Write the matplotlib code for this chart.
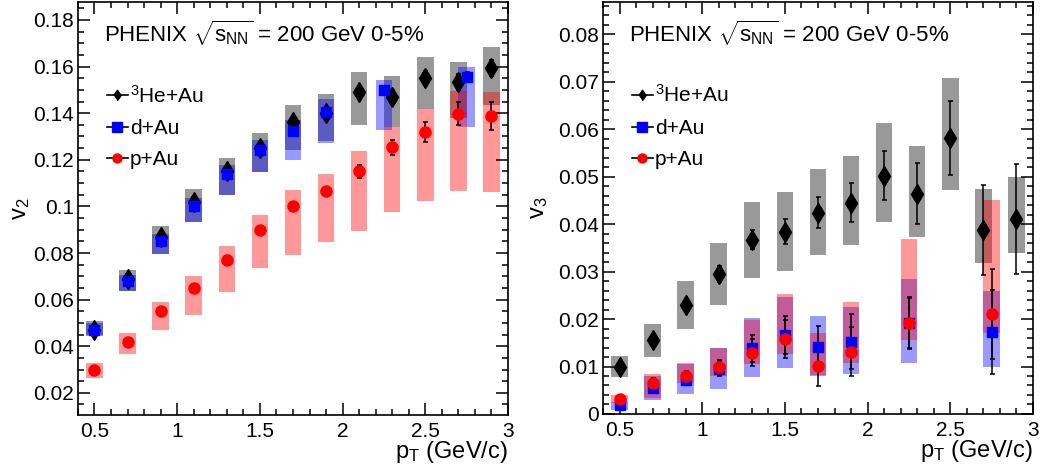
import numpy as np
import matplotlib
matplotlib.use("Agg")
from matplotlib import pyplot as plt
from matplotlib.lines import Line2D
from matplotlib.ticker import MultipleLocator

plt.rcParams['font.family'] = ['Liberation Sans', 'DejaVu Sans']
plt.rcParams['mathtext.fontset'] = 'custom'
plt.rcParams['mathtext.rm'] = 'Liberation Sans'
plt.rcParams['mathtext.it'] = 'Liberation Sans:italic'
plt.rcParams['mathtext.sf'] = 'Liberation Sans'

# ---- v2 ----
pt_he = [0.5, 0.7, 0.9, 1.1, 1.3, 1.5, 1.7, 1.9, 2.1, 2.3, 2.5, 2.7, 2.9]
v2_he = [0.047, 0.069, 0.087, 0.102, 0.115, 0.125, 0.136, 0.140, 0.149, 0.147, 0.155, 0.1535, 0.1595]
v2_he_stat = [0.0008, 0.001, 0.0012, 0.0013, 0.0015, 0.0017, 0.002, 0.002, 0.0025, 0.003, 0.003, 0.0035, 0.0035]
v2_he_lo = [0.0443, 0.0636, 0.0794, 0.0931, 0.1047, 0.1146, 0.124, 0.128, 0.135, 0.134, 0.1416, 0.138, 0.1433]
v2_he_hi = [0.0507, 0.0726, 0.0914, 0.1073, 0.1206, 0.1317, 0.1437, 0.1484, 0.1575, 0.156, 0.1639, 0.162, 0.1686]

pt_d = [0.5, 0.7, 0.9, 1.1, 1.3, 1.5, 1.7, 1.9, 2.25, 2.75]
v2_d = [0.047, 0.068, 0.085, 0.100, 0.114, 0.124, 0.1325, 0.1405, 0.150, 0.1555]
v2_d_stat = [0.0005, 0.0006, 0.0007, 0.0008, 0.0009, 0.001, 0.0012, 0.0014, 0.0018, 0.002]
v2_d_lo = [0.045, 0.0636, 0.0794, 0.0931, 0.1047, 0.1146, 0.120, 0.127, 0.1326, 0.134]
v2_d_hi = [0.050, 0.0704, 0.088, 0.1034, 0.1176, 0.1287, 0.137, 0.1459, 0.1544, 0.160]

pt_p = [0.5, 0.7, 0.9, 1.1, 1.3, 1.5, 1.7, 1.9, 2.1, 2.3, 2.5, 2.7, 2.9]
v2_p = [0.030, 0.042, 0.055, 0.065, 0.077, 0.090, 0.100, 0.1064, 0.115, 0.1253, 0.1318, 0.1398, 0.1386]
v2_p_stat = [0.0005, 0.0006, 0.0007, 0.0008, 0.001, 0.0012, 0.0015, 0.0018, 0.0029, 0.0034, 0.0043, 0.005, 0.006]
v2_p_lo = [0.0263, 0.0366, 0.0469, 0.0533, 0.0631, 0.0734, 0.079, 0.0846, 0.0893, 0.0974, 0.1022, 0.1066, 0.106]
v2_p_hi = [0.0327, 0.0456, 0.0589, 0.070, 0.0829, 0.0962, 0.1069, 0.114, 0.1236, 0.134, 0.1416, 0.1497, 0.1489]

# ---- v3 ----
v3_he = [0.0099, 0.0156, 0.0230, 0.0295, 0.0367, 0.0384, 0.0424, 0.0445, 0.0502, 0.0464, 0.0581, 0.0388, 0.041]
v3_he_stat = [0.0005, 0.001, 0.001, 0.0017, 0.002, 0.0026, 0.0033, 0.0041, 0.0052, 0.0064, 0.0078, 0.0095, 0.0116]
v3_he_lo = [0.0078, 0.012, 0.0179, 0.023, 0.0287, 0.0301, 0.0335, 0.0355, 0.0404, 0.0373, 0.0472, 0.0319, 0.034]
v3_he_hi = [0.0122, 0.019, 0.028, 0.036, 0.0447, 0.0468, 0.0516, 0.0544, 0.0614, 0.0565, 0.0707, 0.0474, 0.050]

pt3_p = [0.5, 0.7, 0.9, 1.1, 1.3, 1.5, 1.7, 1.9, 2.25, 2.75]
v3_d = [0.0019, 0.0054, 0.0072, 0.0094, 0.0138, 0.0166, 0.0141, 0.0152, 0.0191, 0.0173]
v3_d_stat = [0.0006, 0.001, 0.0012, 0.0015, 0.0028, 0.004, 0.0045, 0.0058, 0.0054, 0.0088]
v3_d_lo = [0.0008, 0.003, 0.0042, 0.0053, 0.0077, 0.0096, 0.0079, 0.0084, 0.0108, 0.0098]
v3_d_hi = [0.0026, 0.008, 0.0105, 0.014, 0.0203, 0.0247, 0.0206, 0.0226, 0.0284, 0.0259]

v3_p = [0.0032, 0.0066, 0.0079, 0.0098, 0.0129, 0.0157, 0.0101, 0.0131, 0.0192, 0.021]
v3_p_stat = [0.0006, 0.001, 0.0012, 0.0015, 0.0028, 0.004, 0.0043, 0.0052, 0.0054, 0.0095]
v3_p_lo = [0.0024, 0.0034, 0.0065, 0.0079, 0.0105, 0.0126, 0.0082, 0.0108, 0.0156, 0.0171]
v3_p_hi = [0.0040, 0.0084, 0.0107, 0.014, 0.0197, 0.0252, 0.0171, 0.0235, 0.0369, 0.0451]

diamond = [(-0.7, 0), (0, 1), (0.7, 0), (0, -1)]
fs = 15


def boxes(ax, x, lo, hi, color, alpha):
    ax.bar(x, np.subtract(hi, lo), bottom=lo, width=0.1, color=color,
           alpha=alpha, linewidth=0, zorder=1)


def points(ax, x, y, err, marker, color, ms):
    ax.errorbar(x, y, yerr=err, fmt=marker, color=color, ms=ms,
                mec=color, ecolor='black', elinewidth=1.1, capsize=1.8,
                capthick=1.1, zorder=3)


def panel(ax, ylabel, ylabel_x, ymin, ymax, major, minor):
    ax.set_xlim(0.4, 3.0)
    ax.set_ylim(ymin, ymax)
    ax.xaxis.set_major_locator(MultipleLocator(0.5))
    ax.xaxis.set_minor_locator(MultipleLocator(0.1))
    ax.yaxis.set_major_locator(MultipleLocator(major))
    ax.yaxis.set_minor_locator(MultipleLocator(minor))
    ax.xaxis.set_major_formatter(plt.FuncFormatter(lambda v, p: '%g' % v))
    ax.yaxis.set_major_formatter(plt.FuncFormatter(lambda v, p: '%g' % round(v, 4)))
    ax.tick_params(which='both', direction='in', top=True, right=True,
                   labelsize=15, width=1.1)
    ax.tick_params(which='major', length=8.5)
    ax.tick_params(which='minor', length=4.3)
    ax.tick_params(axis='y', pad=3)
    ax.tick_params(axis='x', pad=5)
    for s in ax.spines.values():
        s.set_linewidth(1.2)
    ax.set_xlabel(r'$\mathrm{p}_{\mathrm{T}}$ (GeV/c)', fontsize=17, ha='right')
    ax.xaxis.set_label_coords(1.0, -0.058)
    ax.xaxis.label.set_va('top')
    ax.set_ylabel(ylabel, fontsize=17)
    ax.yaxis.set_label_coords(ylabel_x, 0.5)
    ax.text(0.06, 0.925, r'PHENIX $\sqrt{\mathrm{s}_{\mathrm{NN}}}$ = 200 GeV 0-5%',
            transform=ax.transAxes, fontsize=16, va='center')
    handles = [
        Line2D([], [], color='black', lw=1.2, marker=diamond, ms=7.5,
               mfc='black', mec='black'),
        Line2D([], [], color='black', lw=1.2, marker='s', ms=6.5,
               mfc='blue', mec='blue'),
        Line2D([], [], color='black', lw=1.2, marker='o', ms=6.5,
               mfc='red', mec='red'),
    ]
    ax.legend(handles, [r'$^{3}$He+Au', 'd+Au', 'p+Au'], loc='upper left',
              bbox_to_anchor=(0.067, 0.80), frameon=False, fontsize=fs,
              handlelength=1.0, handletextpad=0.12, labelspacing=0.6,
              borderpad=0, borderaxespad=0)


fig = plt.figure(figsize=(10.45, 4.76), dpi=100)
ax1 = fig.add_axes([0.0746, 0.1282, 0.4115, 0.8676])
ax2 = fig.add_axes([0.577, 0.1303, 0.4115, 0.8655])

# left: v2
boxes(ax1, pt_he, v2_he_lo, v2_he_hi, '#999999', 1.0)
boxes(ax1, pt_d, v2_d_lo, v2_d_hi, 'blue', 0.4)
boxes(ax1, pt_p, v2_p_lo, v2_p_hi, 'red', 0.4)
points(ax1, pt_he, v2_he, v2_he_stat, 'd', 'black', 10)
points(ax1, pt_d, v2_d, v2_d_stat, 's', 'blue', 7.5)
points(ax1, pt_p, v2_p, v2_p_stat, 'o', 'red', 8)
panel(ax1, r'$\mathrm{v}_{2}$', -0.107, 0.0105, 0.1877, 0.02, 0.005)

# right: v3
boxes(ax2, pt_he, v3_he_lo, v3_he_hi, '#999999', 1.0)
boxes(ax2, pt3_p, v3_d_lo, v3_d_hi, 'blue', 0.4)
boxes(ax2, pt3_p, v3_p_lo, v3_p_hi, 'red', 0.4)
points(ax2, pt_he, v3_he, v3_he_stat, 'd', 'black', 10)
points(ax2, pt3_p, v3_d, v3_d_stat, 's', 'blue', 7.5)
points(ax2, pt3_p, v3_p, v3_p_stat, 'o', 'red', 8)
panel(ax2, r'$\mathrm{v}_{3}$', -0.123, 0.0, 0.0868, 0.01, 0.002)

fig.savefig('out.png', dpi=100)
